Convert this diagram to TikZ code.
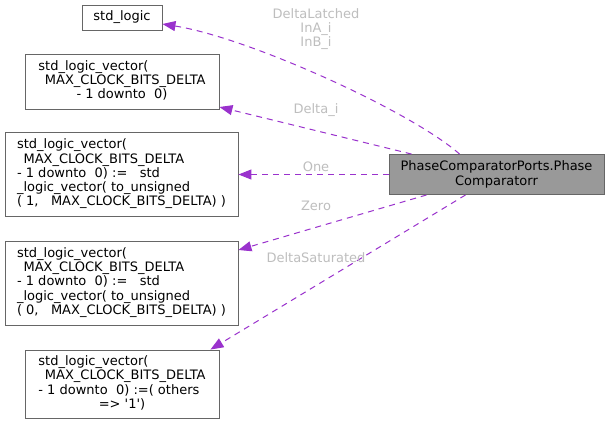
\documentclass[tikz,border=0pt]{standalone}
\usepackage{fontspec}
\setmainfont{DejaVu Sans}
\usetikzlibrary{arrows.meta}
\definecolor{edgepurple}{HTML}{9A32CD}
\definecolor{boxgray}{HTML}{666666}
\definecolor{mainfill}{HTML}{999999}
\definecolor{labelgray}{HTML}{BEBEBE}
\newcommand{\midline}[1]{\multicolumn{1}{@{}c@{}}{#1}}
\newcommand{\indline}{\hspace*{.5em}}

\begin{document}
\begin{tikzpicture}[x=1pt,y=-1pt,font=\fontsize{13}{14.3}\selectfont,
  typebox/.style={draw=boxgray,line width=.9pt,fill=white,inner sep=0pt},
  classbox/.style={typebox,fill=mainfill,align=center},
  uses/.style={edgepurple,line width=1pt,dash pattern=on 6pt off 5pt,-{Triangle[length=13pt,width=10pt]}},
  role/.style={text=labelgray,align=center}]
\fill[white] (0,0) rectangle (609,425);
\useasboundingbox (0,0) rectangle (609,425);
% the class and the types of its ports
\node[classbox,minimum width=215,minimum height=40] (comp) at (496.5,174.5) {PhaseComparatorPorts.Phase\\Comparatorr};
\node[typebox,minimum width=80,minimum height=25] (logic) at (122,17.5) {std\_logic};
\node[typebox,minimum width=194,minimum height=55] (vec) at (122,81.5) {\begin{tabular}{@{}l@{}}std\_logic\_vector(\\\indline MAX\_CLOCK\_BITS\_DELTA\\\midline{- 1 downto\ \ 0)}\end{tabular}};
\node[typebox,minimum width=233,minimum height=84] (one) at (121.5,174.5) {\begin{tabular}{@{}l@{}}std\_logic\_vector(\\\indline MAX\_CLOCK\_BITS\_DELTA\\- 1 downto\ \ 0) :=\ \ \ std\\\_logic\_vector( to\_unsigned\\( 1,\ \ \ MAX\_CLOCK\_BITS\_DELTA) )\end{tabular}};
\node[typebox,minimum width=233,minimum height=84] (zero) at (121.5,283) {\begin{tabular}{@{}l@{}}std\_logic\_vector(\\\indline MAX\_CLOCK\_BITS\_DELTA\\- 1 downto\ \ 0) :=\ \ \ std\\\_logic\_vector( to\_unsigned\\( 0,\ \ \ MAX\_CLOCK\_BITS\_DELTA) )\end{tabular}};
\node[typebox,minimum width=194,minimum height=68] (ones) at (122,384) {\begin{tabular}{@{}l@{}}std\_logic\_vector(\\\indline MAX\_CLOCK\_BITS\_DELTA\\- 1 downto\ \ 0) :=( others\\\midline{=> \textquotesingle 1\textquotesingle)}\end{tabular}};
% usage edges
\draw[uses] ([xshift=71]comp.north west) .. controls (412,112) and (250,38) .. ([yshift=-6.5]logic.east);
\draw[uses] ([xshift=23]comp.north west) -- ([yshift=-25.5]vec.east);
\draw[uses] (comp.west) -- (one.east);
\draw[uses] ([xshift=38]comp.south west) -- ([yshift=33]zero.east);
\draw[uses] ([xshift=77]comp.south west) -- ([xshift=-9]ones.north east);
% edge labels
\node[role] (latched) at (316,29) {DeltaLatched\\InA\_i\\InB\_i};
\node[role] (deltai) at (316,110) {Delta\_i};
\node[role] (onelab) at (316,167) {One};
\node[role] (zerolab) at (316,206) {Zero};
\node[role] (satlab) at (316,258) {DeltaSaturated};
\end{tikzpicture}
\end{document}
